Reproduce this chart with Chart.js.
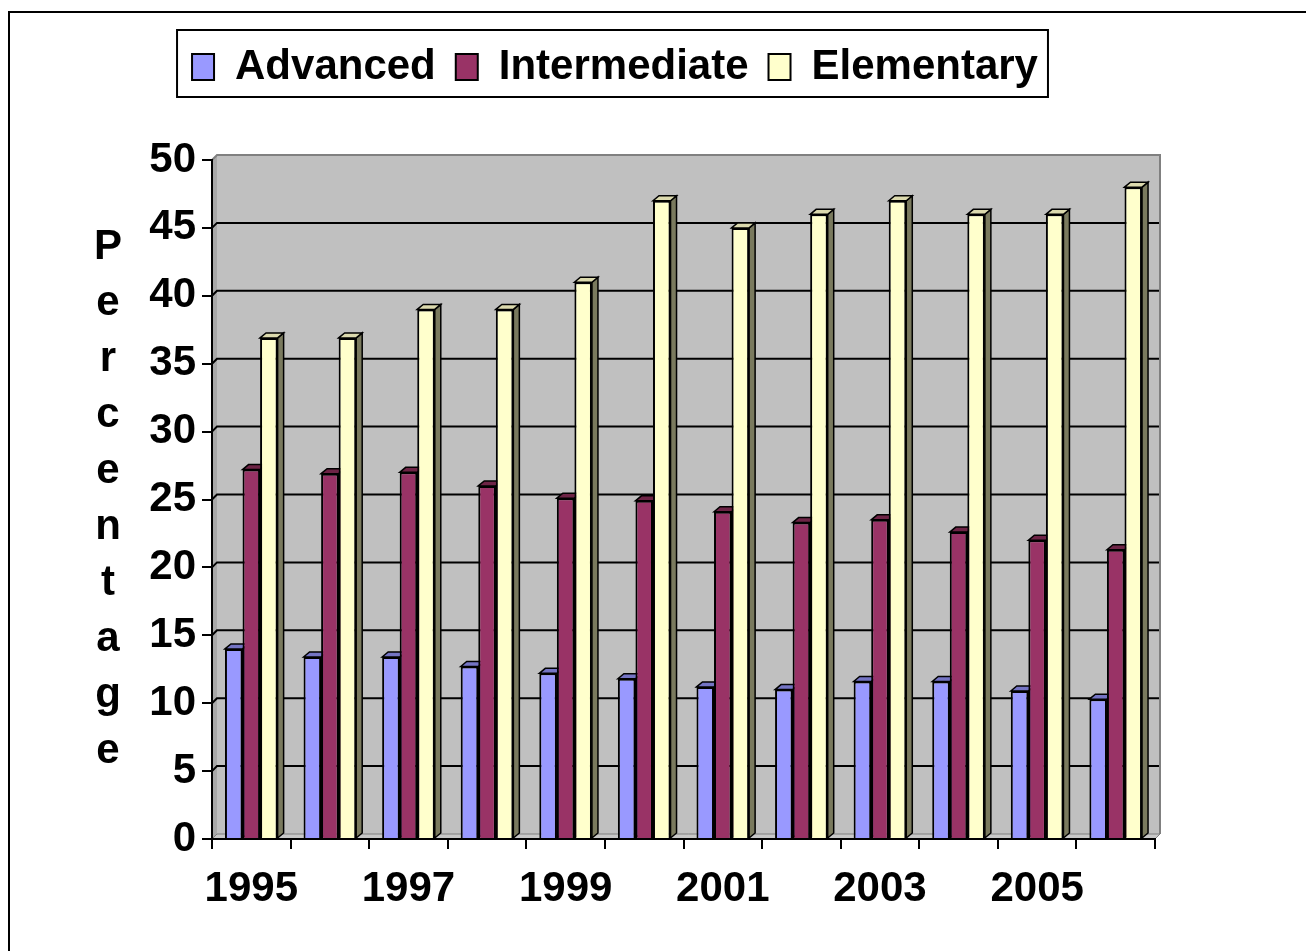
<!DOCTYPE html>
<html>
<head>
<meta charset="utf-8">
<script src="https://cdn.jsdelivr.net/npm/chart.js@4.4.1/dist/chart.umd.min.js"></script>
<style>
  html, body { margin: 0; padding: 0; background: #fff; }
  #wrap { width: 1306px; height: 951px; position: relative; }
</style>
</head>
<body>
<div id="wrap"><canvas id="levelsChart"></canvas></div>
<script>
const years = ['1995', '1996', '1997', '1998', '1999', '2000', '2001', '2002', '2003', '2004', '2005', '2006'];
const advanced = [14.0, 13.4, 13.4, 12.7, 12.2, 11.8, 11.2, 11.0, 11.6, 11.6, 10.9, 10.3];
const intermediate = [27.2, 26.9, 27.0, 26.0, 25.1, 24.9, 24.1, 23.3, 23.5, 22.6, 22.0, 21.3];
const elementary = [36.9, 36.9, 39.0, 39.0, 41.0, 47.0, 45.0, 46.0, 47.0, 46.0, 46.0, 48.0];
const yTitle = 'Percentage';

const FONT = "'Liberation Sans', Arial, sans-serif";
const WX = 5, WY = 5;   // depth of back wall
const DX = 6, DY = 5;   // depth of each bar
const faceColors = [
    { top: '#7474C4', side: '#4C4C80' },
    { top: '#6E2446', side: '#4D1933' },
    { top: '#DCDAAE', side: '#7A7A5E' }
];

function poly(ctx, pts) {
    ctx.beginPath();
    ctx.moveTo(pts[0][0], pts[0][1]);
    for (let i = 1; i < pts.length; i++) ctx.lineTo(pts[i][0], pts[i][1]);
    ctx.closePath();
}

const excel3d = {
    id: 'excel3d',
    afterInit(chart) {
        const legend = chart.legend;
        if (legend && !legend._patched) {
            const fit = legend.fit;
            legend.fit = function () { fit.call(this); this.height += 62; };
            legend._patched = true;
        }
    },
    beforeDraw(chart) {
        const { ctx, chartArea: a, scales: { y } } = chart;
        ctx.save();
        // outer frame
        ctx.strokeStyle = '#000';
        ctx.lineWidth = 2;
        ctx.strokeRect(9, 12, chart.width + 20, chart.height + 20);

        // side wall
        ctx.fillStyle = '#A8A8A8';
        poly(ctx, [[a.left, a.bottom], [a.left, a.top], [a.left + WX, a.top - WY], [a.left + WX, a.bottom - WY]]);
        ctx.fill();

        // back wall
        ctx.fillStyle = '#C0C0C0';
        ctx.fillRect(a.left + WX, a.top - WY, a.width, a.height);

        // gridlines on the wall
        ctx.strokeStyle = '#000';
        ctx.lineWidth = 2;
        for (let v = 5; v < 50; v += 5) {
            const yy = y.getPixelForValue(v);
            ctx.beginPath();
            ctx.moveTo(a.left, yy);
            ctx.lineTo(a.left + WX, yy - WY);
            ctx.lineTo(a.right + WX, yy - WY);
            ctx.stroke();
        }
        // wall edges
        ctx.strokeStyle = '#808080';
        ctx.beginPath();
        ctx.moveTo(a.left, a.top);
        ctx.lineTo(a.left + WX, a.top - WY);
        ctx.lineTo(a.right + WX, a.top - WY);
        ctx.lineTo(a.right + WX, a.bottom - WY);
        ctx.stroke();

        // floor
        ctx.fillStyle = '#C8C8C8';
        ctx.lineWidth = 1;
        poly(ctx, [[a.left, a.bottom], [a.left + WX, a.bottom - WY], [a.right + WX, a.bottom - WY], [a.right, a.bottom]]);
        ctx.fill();
        ctx.stroke();
        ctx.restore();
    },
    beforeDatasetsDraw(chart) {
        const { ctx } = chart;
        ctx.save();
        ctx.strokeStyle = '#000';
        ctx.lineWidth = 1.5;
        chart.data.datasets.forEach((ds, di) => {
            chart.getDatasetMeta(di).data.forEach(bar => {
                const { x, y, base, width } = bar.getProps(['x', 'y', 'base', 'width'], true);
                const l = x - width / 2, r = x + width / 2;
                ctx.fillStyle = faceColors[di].side;
                poly(ctx, [[r, y], [r + DX, y - DY], [r + DX, base - DY], [r, base]]);
                ctx.fill();
                ctx.stroke();
                ctx.fillStyle = faceColors[di].top;
                poly(ctx, [[l, y], [l + DX, y - DY], [r + DX, y - DY], [r, y]]);
                ctx.fill();
                ctx.stroke();
            });
        });
        ctx.restore();
    },
    afterDraw(chart) {
        const { ctx } = chart;
        ctx.save();
        // frame round the legend
        const boxes = chart.legend.legendHitBoxes;
        if (boxes && boxes.length) {
            const left = Math.min(...boxes.map(b => b.left)) - 15;
            const right = Math.max(...boxes.map(b => b.left + b.width)) + 10;
            const top = boxes[0].top - 16;
            const bottom = boxes[0].top + boxes[0].height + 9;
            ctx.strokeStyle = '#000';
            ctx.lineWidth = 2;
            ctx.strokeRect(left, top, right - left, bottom - top);
        }
        // stacked y axis title
        ctx.fillStyle = '#000';
        ctx.font = 'bold 42px ' + FONT;
        ctx.textAlign = 'center';
        ctx.textBaseline = 'middle';
        for (let i = 0; i < yTitle.length; i++) {
            ctx.fillText(yTitle[i], 108, 247 + i * 56.1);
        }
        ctx.restore();
    }
};

new Chart(document.getElementById('levelsChart'), {
    type: 'bar',
    data: {
        labels: years,
        datasets: [{
                label: 'Advanced',
                data: advanced,
                backgroundColor: '#9999FF',
                borderColor: '#000',
                borderWidth: 2
            },
            {
                label: 'Intermediate',
                data: intermediate,
                backgroundColor: '#993366',
                borderColor: '#000',
                borderWidth: 2
            },
            {
                label: 'Elementary',
                data: elementary,
                backgroundColor: '#FFFFCC',
                borderColor: '#000',
                borderWidth: 2
            }
        ]
    },
    options: {
        responsive: true,
        maintainAspectRatio: false,
        animation: false,
        layout: {
            padding: { left: 75, right: 151, top: 26, bottom: 24 }
        },
        datasets: {
            bar: {
                categoryPercentage: 0.67,
                barPercentage: 1.0
            }
        },
        plugins: {
            legend: {
                position: 'top',
                labels: {
                    color: '#000',
                    boxWidth: 22,
                    boxHeight: 26,
                    padding: 20,
                    font: { family: FONT, size: 42, weight: 'bold' }
                }
            },
            tooltip: { enabled: false }
        },
        scales: {
            x: {
                afterFit: scale => { scale.height = 88; },
                ticks: {
                    color: '#000',
                    autoSkip: false,
                    maxRotation: 0,
                    padding: 15,
                    font: { family: FONT, size: 42, weight: 'bold' },
                    callback: (v, i) => i % 2 === 0 ? years[i] : ''
                },
                grid: {
                    offset: true,
                    drawOnChartArea: false,
                    tickLength: 10,
                    color: '#000',
                    lineWidth: 2
                },
                border: { color: '#000', width: 2 }
            },
            y: {
                min: 0,
                max: 50,
                afterFit: scale => { scale.width = 137; },
                ticks: {
                    stepSize: 5,
                    color: '#000',
                    padding: 6,
                    font: { family: FONT, size: 42, weight: 'bold' }
                },
                grid: {
                    drawOnChartArea: false,
                    tickLength: 10,
                    color: '#000',
                    lineWidth: 2
                },
                border: { color: '#000', width: 2 }
            }
        }
    },
    plugins: [excel3d]
});
</script>
</body>
</html>
